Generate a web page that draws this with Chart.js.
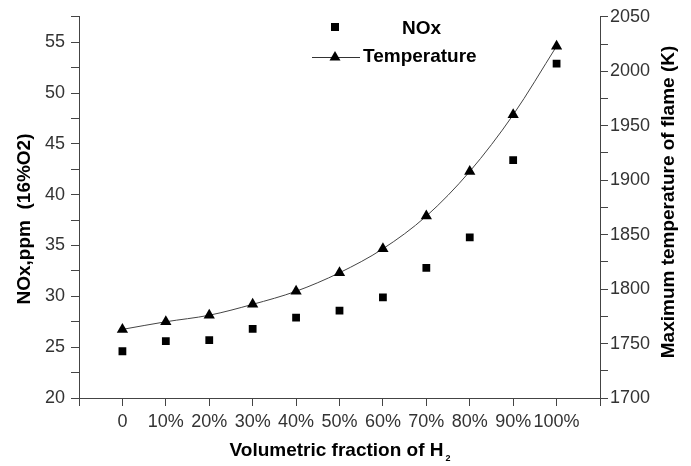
<!DOCTYPE html>
<html>
<head>
<meta charset="utf-8">
<script src="https://cdn.jsdelivr.net/npm/chart.js@4"></script>
<style>
  html, body { margin: 0; padding: 0; background: #fff; }
  #wrap { width: 691px; height: 466px; }
</style>
</head>
<body>
<div id="wrap"><canvas id="chart" width="691" height="466"></canvas></div>
<script>
// values
const hydrogenFraction = [0, 10, 20, 30, 40, 50, 60, 70, 80, 90, 100];
const noxPpm = [24.6, 25.6, 25.7, 26.8, 27.9, 28.6, 29.9, 32.8, 35.8, 43.4, 52.9];
const flameTemp = [1763, 1770, 1776, 1786, 1798, 1815, 1837, 1867, 1908, 1960, 2023];

const noxLabel = 'NOx';
const tempLabel = 'Temperature';
const xTitle = 'Volumetric fraction of H';
const yTitle = 'NOx,ppm  (16%O2)';
const y2Title = 'Maximum temperature of flame (K)';

const axisColor = '#444';
const tickText = '#333';
const fontFam = 'Arial, "Liberation Sans", sans-serif';

const toPoints = ys => hydrogenFraction.map((x, i) => ({ x: x, y: ys[i] }));

// axis titles + legend, drawn on top
const extras = {
  id: 'extras',
  afterDraw(chart) {
    const ctx = chart.ctx;
    ctx.save();
    ctx.fillStyle = '#000';
    ctx.font = 'bold 19px ' + fontFam;
    ctx.textBaseline = 'middle';
    ctx.textAlign = 'center';

    // left title
    ctx.save();
    ctx.translate(25, 219);
    ctx.rotate(-Math.PI / 2);
    ctx.fillText(yTitle, 0, 0);
    ctx.restore();

    // right title
    ctx.save();
    ctx.translate(669, 202);
    ctx.rotate(-Math.PI / 2);
    ctx.fillText(y2Title, 0, 0);
    ctx.restore();

    // bottom title with subscript
    const area = chart.chartArea;
    const cx = (area.left + area.right) / 2;
    const w = ctx.measureText(xTitle).width;
    ctx.textAlign = 'left';
    ctx.textBaseline = 'alphabetic';
    ctx.fillText(xTitle, cx - w / 2 - 3, 456);
    ctx.font = 'bold 9px ' + fontFam;
    ctx.fillText('2', cx + w / 2 - 1, 461);

    // legend
    ctx.font = 'bold 19px ' + fontFam;
    ctx.textBaseline = 'middle';
    ctx.fillRect(331, 23, 8, 8);
    ctx.fillText(noxLabel, 402, 29);

    ctx.strokeStyle = '#333';
    ctx.lineWidth = 1;
    ctx.beginPath();
    ctx.moveTo(312, 57.5);
    ctx.lineTo(360, 57.5);
    ctx.stroke();
    ctx.beginPath();
    ctx.moveTo(335, 51);
    ctx.lineTo(340.5, 60.5);
    ctx.lineTo(329.5, 60.5);
    ctx.closePath();
    ctx.fill();
    ctx.fillText(tempLabel, 363, 57);
    ctx.restore();
  }
};

new Chart(document.getElementById('chart'), {
  type: 'scatter',
  data: {
    datasets: [
      {
        label: noxLabel,
        data: toPoints(noxPpm),
        yAxisID: 'y',
        pointStyle: 'rect',
        pointRadius: 5.5,
        backgroundColor: '#000',
        borderColor: '#000',
        borderWidth: 0,
        showLine: false
      },
      {
        label: tempLabel,
        data: toPoints(flameTemp),
        yAxisID: 'y2',
        pointStyle: 'triangle',
        pointRadius: 6.5,
        pointBackgroundColor: '#000',
        pointBorderColor: '#000',
        pointBorderWidth: 0,
        borderColor: '#444',
        borderWidth: 1,
        showLine: true,
        cubicInterpolationMode: 'monotone'
      }
    ]
  },
  options: {
    responsive: false,
    animation: false,
    layout: { padding: { top: 15, left: 0, right: 0, bottom: 0 } },
    plugins: {
      legend: { display: false },
      tooltip: { enabled: false }
    },
    scales: {
      x: {
        type: 'linear',
        min: -10,
        max: 110,
        afterFit: s => { s.height = 68; },
        border: { display: true, color: axisColor, width: 1 },
        grid: { drawOnChartArea: false, drawTicks: true, tickLength: 8, color: axisColor },
        ticks: {
          stepSize: 10,
          autoSkip: false,
          maxRotation: 0,
          padding: 5,
          color: tickText,
          font: { family: fontFam, size: 18 },
          callback: v => (v < 0 || v > 100) ? '' : (v === 0 ? '0' : v + '%')
        }
      },
      y: {
        position: 'left',
        min: 20,
        max: 57.5,
        afterFit: s => { s.width = 79; },
        border: { display: true, color: axisColor, width: 1 },
        grid: { drawOnChartArea: false, drawTicks: true, tickLength: 8, color: axisColor },
        ticks: {
          stepSize: 2.5,
          autoSkip: false,
          padding: 6,
          color: tickText,
          font: { family: fontFam, size: 18 },
          callback: v => v % 5 === 0 ? v : ''
        }
      },
      y2: {
        position: 'right',
        min: 1700,
        max: 2050,
        afterFit: s => { s.width = 91; },
        border: { display: true, color: axisColor, width: 1 },
        grid: { drawOnChartArea: false, drawTicks: true, tickLength: 8, color: axisColor },
        ticks: {
          stepSize: 25,
          autoSkip: false,
          padding: 2,
          color: tickText,
          font: { family: fontFam, size: 18 },
          callback: v => v % 50 === 0 ? v : ''
        }
      }
    }
  },
  plugins: [extras]
});
</script>
</body>
</html>
